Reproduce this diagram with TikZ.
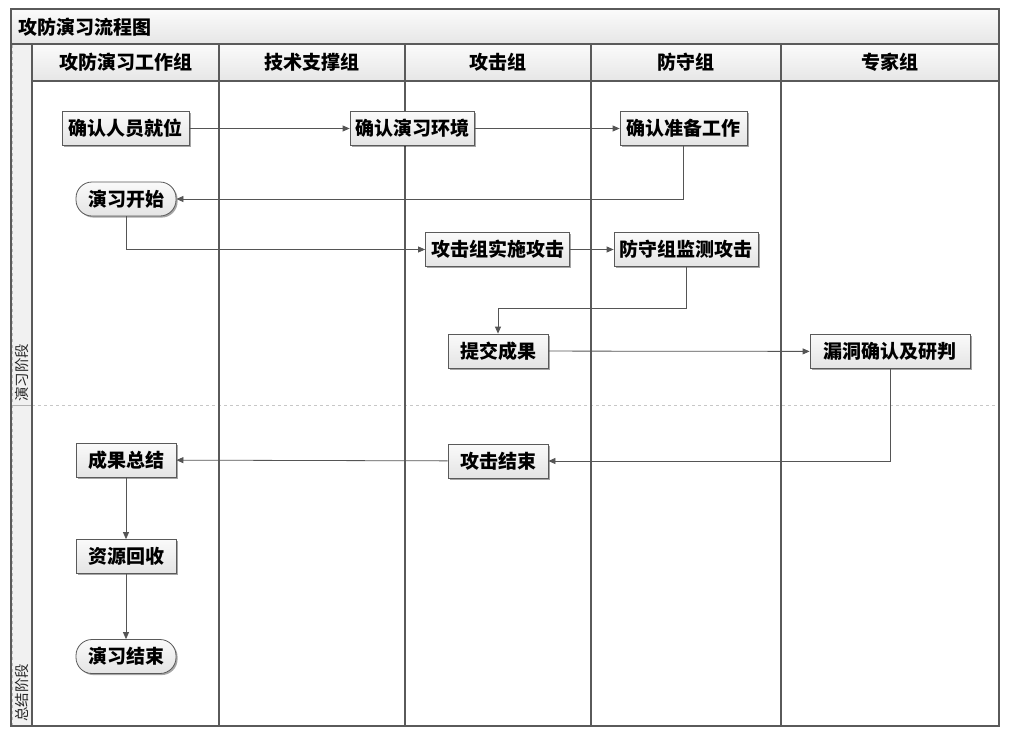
\documentclass[tikz,border=0pt]{standalone}
\usepackage{fontspec}
\newfontfamily\cjk{Noto Sans CJK SC}
\usetikzlibrary{arrows.meta,shadows}

\definecolor{frameline}{HTML}{5A5A5A}
\definecolor{linkline}{HTML}{555555}
\definecolor{barlight}{HTML}{FBFBFB}
\definecolor{bardark}{HTML}{E6E6E6}
\definecolor{boxtop}{HTML}{FAFAFA}
\definecolor{boxbottom}{HTML}{E4E4E4}
\definecolor{phasefill}{HTML}{F1F1F1}

\tikzset{
  flowbox/.style={draw=frameline, line width=0.8pt, top color=boxtop, bottom color=boxbottom,
    minimum height=34pt, inner xsep=4pt, inner ysep=0pt,
    font=\cjk\bfseries\fontsize{19pt}{19pt}\selectfont, text=black,
    drop shadow={shadow xshift=1.6pt, shadow yshift=-1.6pt, fill=black, opacity=0.35}},
  terminal/.style={flowbox, rounded corners=16pt},
  link/.style={draw=linkline, line width=0.8pt, -{Triangle[length=7pt,width=6pt]}},
  lane/.style={draw=frameline, line width=1.1pt},
  headtext/.style={font=\cjk\bfseries\fontsize{19pt}{19pt}\selectfont, text=black},
  phasetext/.style={font=\cjk\fontsize{14.5pt}{14.5pt}\selectfont, text=black!85, rotate=90, anchor=west, inner sep=0pt}
}

\begin{document}
\begin{tikzpicture}[x=1pt, y=-1pt]
\useasboundingbox (0,0) rectangle (1011,736);
\fill[white] (0,0) rectangle (1011,736);

% title bar and lane header row
\shade[top color=barlight, bottom color=bardark] (11,9) rectangle (999,44);
\shade[top color=barlight, bottom color=bardark] (32,44) rectangle (999,81);
% phase label column
\fill[phasefill] (11,44) rectangle (32,726);
\draw[black!25, dashed, line width=0.6pt] (12,45) -- (12,725);
\draw[black!30, line width=0.8pt] (11,405) -- (32,405);
% phase divider
\draw[black!22, dashed, line width=0.8pt] (32,405) -- (999,405);

\node[headtext, anchor=west] (title) at (15,27) {攻防演习流程图};

% lanes
\draw[lane] (11,44) -- (999,44);
\draw[lane] (32,81) -- (999,81);
\foreach \lx in {32,219,405,591,781} \draw[lane] (\lx,44) -- (\lx,726);
\draw[lane] (11,9) rectangle (999,726);

\node[headtext] (h1) at (125.5,62.5) {攻防演习工作组};
\node[headtext] (h2) at (312,62.5) {技术支撑组};
\node[headtext] (h3) at (498,62.5) {攻击组};
\node[headtext] (h4) at (686,62.5) {防守组};
\node[headtext] (h5) at (890,62.5) {专家组};

\node[phasetext] (p1) at (21.5,402) {演习阶段};
\node[phasetext] (p2) at (21.5,722) {总结阶段};

% steps
\node[flowbox, minimum width=127pt] (s1) at (125.5,128.5) {确认人员就位};
\node[flowbox, minimum width=124pt] (s2) at (412,128.5) {确认演习环境};
\node[flowbox, minimum width=127pt] (s3) at (683.5,128.5) {确认准备工作};
\node[terminal, minimum width=100pt] (start) at (126,199) {演习开始};
\node[flowbox, minimum width=144pt] (s4) at (497.5,249.5) {攻击组实施攻击};
\node[flowbox, minimum width=144pt] (s5) at (686,249.5) {防守组监测攻击};
\node[flowbox, minimum width=100pt] (s6) at (498,351) {提交成果};
\node[flowbox, minimum width=160pt] (s7) at (890,351.5) {漏洞确认及研判};
\node[flowbox, minimum width=100pt] (s8) at (498,461) {攻击结束};
\node[flowbox, minimum width=100pt] (s9) at (126,460) {成果总结};
\node[flowbox, minimum width=100pt] (s10) at (126,556.5) {资源回收};
\node[terminal, minimum width=100pt] (stop) at (126,656.5) {演习结束};

% connectors
\draw[link] (s1) -- (s2);
\draw[link] (s2) -- (s3);
\draw[link] (s3.south) |- (start.east);
\draw[link] (start.south) |- (s4.west);
\draw[link] (s4) -- (s5);
\draw[link] (s5.south) -- ++(0,41) -| (s6.north);
\draw[link] (s6) -- (s7);
\draw[link] (s7.south) |- (s8.east);
\draw[link] (s8) -- (s9);
\draw[link] (s9) -- (s10);
\draw[link] (s10) -- (stop);
\end{tikzpicture}
\end{document}
